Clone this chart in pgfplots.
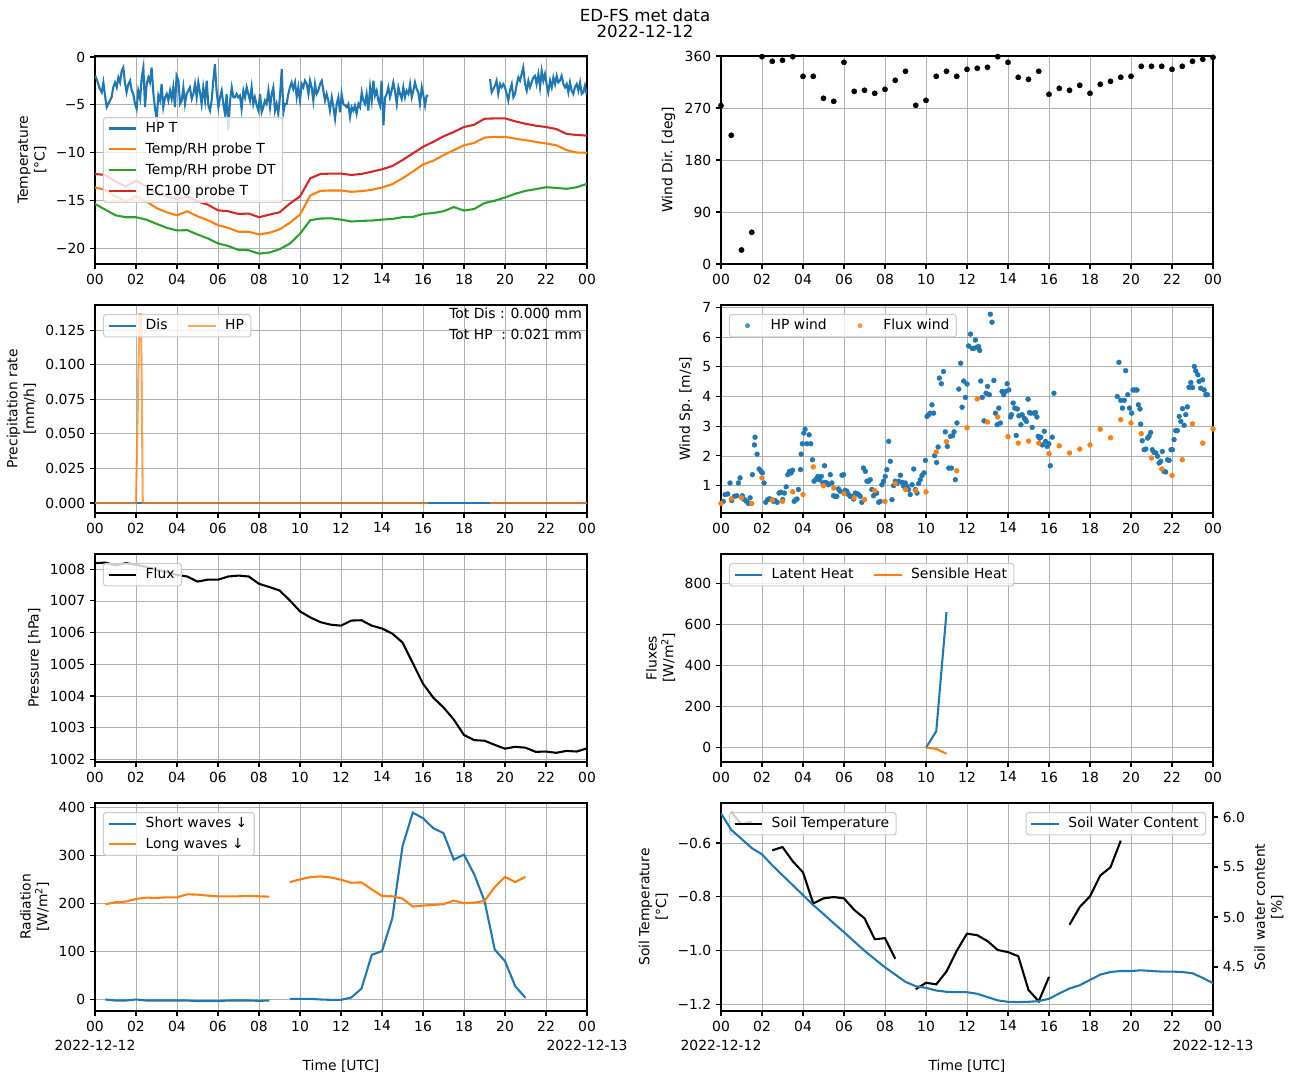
\documentclass[border=0pt]{standalone}
\usepackage{fontspec}
\setmainfont{DejaVu Sans}
\usepackage{pgfplots}
\pgfplotsset{compat=1.18}
\definecolor{tabblue}{HTML}{1F77B4}
\definecolor{taborange}{HTML}{FF7F0E}
\definecolor{tabgreen}{HTML}{2CA02C}
\definecolor{tabred}{HTML}{D62728}
\definecolor{gridgray}{HTML}{B0B0B0}
\definecolor{legframe}{HTML}{CCCCCC}
\pgfplotsset{
  mpllegend/.style={
    legend style={font=\fontsize{10}{12}\selectfont, draw=legframe, line width=0.8pt,
      fill=white, fill opacity=0.8, text opacity=1, draw opacity=1,
      rounded corners=2pt, inner xsep=3pt, inner ysep=1.5pt, row sep=2pt,
      cells={anchor=west}, at={(0.016,0.957)}, anchor=north west,
      /tikz/every even column/.append style={column sep=12pt}},
    legend image code/.code={\draw[##1] (0pt,0pt) -- (20pt,0pt); \path[draw=none,fill=none] (0pt,0pt) -- (24.7pt,0pt);},
  },
  mpl/.style={
    scale only axis, width=354.24pt, height=149.76pt,
    xmin=0, xmax=24, xtick={0,2,...,24},
    xticklabels={00,02,04,06,08,10,12,14,16,18,20,22,00},
    grid=major, major grid style={draw=gridgray, line width=0.6pt},
    axis line style={line width=0.8pt},
    every tick/.style={black, line width=0.8pt},
    tick align=outside, major tick length=3.5pt, tick pos=left,
    tick label style={font=\fontsize{10}{12}\selectfont},
    label style={font=\fontsize{10}{12}\selectfont, align=center},
    /pgf/number format/assume math mode=true,
    mpllegend,
    every axis plot/.append style={line width=1.5pt},
  },
  markleg/.style={legend image code/.code={\fill[#1, draw=none] (10pt,0pt) circle (1.8pt); \path[draw=none,fill=none] (0pt,0pt) -- (24.7pt,0pt);}},
  bottomrow/.style={
    xticklabels={{00\\2022-12-12},02,04,06,08,10,12,14,16,18,20,22,{00\\2022-12-13}},
    xticklabel style={align=center, font=\fontsize{10}{13.7}\selectfont},
    xlabel={Time [UTC]},
  },
}
\begin{document}
\begin{tikzpicture}
\useasboundingbox (0pt,0pt) rectangle (928.8pt,779.04pt);
\node[font=\fontsize{12}{14}\selectfont, anchor=base] at (464.4pt,763.9pt) {ED-FS met data};
\node[font=\fontsize{12}{14}\selectfont, anchor=base] at (464.4pt,751.7pt) {2022-12-12};

% ---------------- Temperature ----------------
\begin{axis}[mpl, at={(68.4pt,738.72pt)}, anchor=north west,
  ymin=-21.6, ymax=0.1, ytick={-20,-15,-10,-5,0}, yticklabels={−20,−15,−10,−5,0},
  ylabel={Temperature\\{}[°C]}, unbounded coords=jump,
  legend style={at={(0.016,0.5)}, anchor=west}]
\addplot[tabblue] table {
x y
0.00 -1.97
0.08 -2.31
0.16 -2.83
0.24 -3.34
0.33 -3.69
0.41 -2.66
0.49 -4.03
0.57 -5.24
0.65 -4.90
0.73 -4.55
0.81 -4.21
0.89 -3.17
0.98 -2.66
1.06 -3.17
1.14 -2.14
1.22 -2.66
1.30 -1.45
1.38 -1.10
1.46 -2.66
1.54 -3.69
1.63 -2.83
1.71 -2.48
1.79 -3.52
1.87 -3.86
1.95 -4.90
2.03 -5.41
2.11 -3.52
2.20 -4.38
2.28 -2.14
2.36 -1.10
2.44 -5.24
2.52 -2.83
2.60 -2.14
2.68 -2.66
2.76 -1.10
2.85 -3.86
2.93 -5.41
3.01 -6.45
3.09 -4.03
3.17 -4.55
3.25 -2.83
3.33 -5.24
3.42 -4.21
3.50 -3.86
3.58 -4.55
3.66 -3.52
3.74 -4.38
3.82 -3.17
3.90 -5.24
3.98 -1.97
4.07 -2.48
4.15 -4.90
4.23 -4.55
4.31 -3.17
4.39 -4.90
4.47 -3.86
4.55 -3.52
4.63 -3.17
4.72 -4.38
4.80 -3.86
4.88 -2.83
4.96 -4.21
5.04 -2.66
5.12 -3.69
5.20 -4.90
5.28 -3.17
5.37 -4.55
5.45 -2.48
5.53 -5.07
5.61 -5.59
5.69 -4.55
5.77 -2.48
5.85 -0.76
5.93 -3.52
6.02 -5.24
6.10 -4.21
6.18 -3.52
6.26 -4.90
6.34 -5.93
6.42 -3.86
6.50 -7.66
6.59 -4.55
6.67 -3.17
6.75 -4.21
6.83 -4.21
6.91 -3.86
6.99 -4.21
7.07 -4.03
7.15 -5.41
7.24 -3.52
7.32 -4.21
7.40 -3.17
7.48 -3.86
7.56 -4.55
7.64 -3.17
7.72 -4.90
7.80 -4.21
7.89 -5.07
7.97 -5.59
8.05 -3.86
8.13 -5.76
8.21 -5.24
8.29 -4.55
8.37 -4.90
8.46 -3.52
8.54 -5.24
8.62 -3.86
8.70 -3.17
8.78 -5.59
8.86 -4.90
8.94 -5.93
9.02 -4.21
9.11 -1.28
9.19 -5.76
9.27 -4.90
9.35 -4.90
9.43 -3.86
9.51 -3.17
9.59 -2.66
9.67 -3.34
9.76 -2.66
9.84 -4.21
9.92 -3.17
10.00 -4.55
10.08 -2.83
10.16 -3.17
10.24 -2.48
10.33 -2.83
10.41 -3.86
10.49 -2.48
10.57 -3.17
10.65 -4.55
10.73 -2.83
10.81 -3.86
10.89 -3.52
10.98 -2.83
11.06 -2.48
11.14 -3.52
11.22 -4.55
11.30 -3.86
11.38 -4.55
11.46 -5.59
11.55 -4.21
11.63 -5.24
11.71 -6.45
11.79 -4.90
11.87 -4.21
11.95 -5.76
12.03 -3.86
12.11 -4.90
12.20 -5.07
12.28 -5.24
12.36 -4.90
12.44 -6.28
12.52 -5.24
12.60 -5.59
12.68 -5.07
12.76 -5.93
12.85 -4.90
12.93 -5.24
13.01 -3.69
13.09 -4.55
13.17 -4.90
13.25 -3.86
13.33 -5.59
13.42 -3.17
13.50 -4.55
13.58 -2.48
13.66 -4.03
13.74 -3.52
13.82 -4.55
13.90 -5.07
13.98 -2.48
14.07 -7.14
14.15 -4.21
14.23 -3.86
14.31 -3.17
14.39 -4.21
14.47 -3.52
14.55 -2.66
14.63 -3.52
14.72 -4.90
14.80 -3.17
14.88 -3.86
14.96 -4.38
15.04 -3.17
15.12 -4.21
15.20 -3.52
15.29 -3.86
15.37 -2.83
15.45 -4.21
15.53 -3.52
15.61 -2.66
15.69 -3.34
15.77 -3.69
15.85 -4.90
15.94 -3.17
16.02 -4.03
16.10 -5.07
16.18 -4.03
16.26 -4.03
nan nan
19.27 -2.31
19.35 -3.69
19.43 -3.34
19.51 -3.00
19.59 -2.48
19.67 -3.86
19.76 -2.83
19.84 -3.17
19.92 -2.83
20.00 -3.17
20.08 -3.86
20.16 -4.55
20.24 -3.52
20.33 -2.83
20.41 -4.21
20.49 -3.86
20.57 -2.83
20.65 -2.14
20.73 -2.48
20.81 -1.79
20.89 -1.10
20.98 -2.83
21.06 -3.52
21.14 -2.48
21.22 -3.17
21.30 -2.66
21.38 -2.14
21.46 -1.97
21.54 -2.83
21.63 -1.79
21.71 -3.17
21.79 -1.45
21.87 -2.48
21.95 -1.79
22.03 -2.83
22.11 -3.69
22.20 -2.48
22.28 -3.17
22.36 -2.14
22.44 -2.83
22.52 -1.97
22.60 -2.66
22.68 -2.48
22.76 -1.97
22.85 -2.83
22.93 -3.17
23.01 -2.83
23.09 -3.69
23.17 -2.66
23.25 -3.52
23.33 -3.86
23.41 -3.17
23.50 -2.83
23.58 -3.52
23.66 -2.66
23.74 -3.86
23.82 -3.69
23.90 -3.00
23.98 -3.86
};
\addlegendentry{HP T}
\addplot[taborange] table {
x y
0.0 -13.62
0.5 -13.86
1.0 -14.55
1.5 -15.07
2.0 -14.55
2.5 -15.07
3.0 -15.76
3.5 -16.21
4.0 -16.52
4.5 -16.10
5.0 -16.62
5.5 -17.03
6.0 -17.55
6.5 -17.83
7.0 -18.24
7.5 -18.24
8.0 -18.52
8.5 -18.34
9.0 -18.00
9.5 -17.31
10.0 -16.45
10.5 -14.45
11.0 -13.97
11.5 -13.93
12.0 -13.93
12.5 -14.07
13.0 -14.00
13.5 -13.86
14.0 -13.62
14.5 -13.28
15.0 -12.66
15.5 -11.97
16.0 -11.21
16.5 -10.83
17.0 -10.24
17.5 -9.72
18.0 -9.21
18.5 -8.97
19.0 -8.41
19.5 -8.34
20.0 -8.34
20.5 -8.52
21.0 -8.69
21.5 -8.86
22.0 -9.03
22.5 -9.21
23.0 -9.72
23.5 -9.97
24.0 -10.00
};
\addlegendentry{Temp/RH probe T}
\addplot[tabgreen] table {
x y
0.0 -15.34
0.5 -15.93
1.0 -16.52
1.5 -16.72
2.0 -16.72
2.5 -16.97
3.0 -17.41
3.5 -17.83
4.0 -18.10
4.5 -18.07
5.0 -18.52
5.5 -18.93
6.0 -19.45
6.5 -19.72
7.0 -20.14
7.5 -20.17
8.0 -20.52
8.5 -20.41
9.0 -20.07
9.5 -19.48
10.0 -18.45
10.5 -17.03
11.0 -16.86
11.5 -16.83
12.0 -16.97
12.5 -17.17
13.0 -17.10
13.5 -17.07
14.0 -16.97
14.5 -16.90
15.0 -16.72
15.5 -16.69
16.0 -16.38
16.5 -16.28
17.0 -16.10
17.5 -15.66
18.0 -16.03
18.5 -15.86
19.0 -15.24
19.5 -15.00
20.0 -14.66
20.5 -14.28
21.0 -13.97
21.5 -13.79
22.0 -13.59
22.5 -13.66
23.0 -13.76
23.5 -13.59
24.0 -13.24
};
\addlegendentry{Temp/RH probe DT}
\addplot[tabred] table {
x y
0.0 -12.21
0.5 -12.31
1.0 -13.00
1.5 -13.52
2.0 -12.90
2.5 -13.52
3.0 -14.21
3.5 -14.55
4.0 -14.83
4.5 -14.55
5.0 -15.07
5.5 -15.41
6.0 -16.00
6.5 -16.10
7.0 -16.38
7.5 -16.34
8.0 -16.72
8.5 -16.45
9.0 -16.21
9.5 -15.31
10.0 -14.55
10.5 -12.66
11.0 -12.21
11.5 -12.17
12.0 -12.17
12.5 -12.31
13.0 -12.21
13.5 -11.97
14.0 -11.72
14.5 -11.38
15.0 -10.76
15.5 -10.07
16.0 -9.38
16.5 -8.86
17.0 -8.28
17.5 -7.83
18.0 -7.31
18.5 -7.07
19.0 -6.45
19.5 -6.41
20.0 -6.41
20.5 -6.72
21.0 -6.97
21.5 -7.17
22.0 -7.31
22.5 -7.52
23.0 -8.03
23.5 -8.14
24.0 -8.21
};
\addlegendentry{EC100 probe T}
\end{axis}

% ---------------- Wind direction ----------------
\begin{axis}[mpl, at={(519.12pt,738.72pt)}, anchor=north west,
  ymin=0, ymax=360, ytick={0,90,180,270,360}, ylabel={Wind Dir. [deg]}, clip=false]
\addplot[only marks, mark=*, mark size=1.9pt, line width=0.3pt, black] table {
x y
0.0 274.0
0.5 222.7
1.0 24.2
1.5 54.8
2.0 358.8
2.5 350.8
3.0 352.5
3.5 358.8
4.0 324.8
4.5 324.8
5.0 286.7
5.5 281.5
6.0 349.0
6.5 298.8
7.0 300.6
7.5 295.4
8.0 302.3
8.5 317.9
9.0 333.5
9.5 274.6
10.0 283.3
10.5 324.8
11.0 333.5
11.5 324.8
12.0 336.9
12.5 338.7
13.0 340.4
13.5 358.8
14.0 349.0
14.5 323.1
15.0 319.6
15.5 333.5
16.0 293.7
16.5 304.0
17.0 300.6
17.5 309.2
18.0 295.4
18.5 311.0
19.0 316.2
19.5 323.1
20.0 324.8
20.5 342.1
21.0 342.1
21.5 342.1
22.0 336.9
22.5 342.1
23.0 350.8
23.5 354.2
24.0 357.7
};
\end{axis}

% ---------------- Precipitation ----------------
\begin{axis}[mpl, at={(68.4pt,559.44pt)}, anchor=north west,
  ymin=-0.0072, ymax=0.1432, ytick={0,0.025,0.05,0.075,0.1,0.125},
  yticklabels={0.000,0.025,0.050,0.075,0.100,0.125},
  ylabel={Precipitation rate\\{}[mm/h]}, unbounded coords=jump, legend columns=2]
\addplot[tabblue] coordinates {(0,0) (24,0)};
\addlegendentry{Dis}
\addplot[taborange, opacity=0.7] table {
x y
0.00 0
2.00 0
2.17 0.1367
2.25 0.1367
2.33 0
16.26 0
nan nan
19.27 0
24.00 0
};
\addlegendentry{HP}
\node[anchor=north east, inner sep=0pt, font=\fontsize{10}{12}\selectfont] at (axis description cs:0.99,0.985) {Tot Dis : 0.000 mm};
\node[anchor=north east, inner sep=0pt, font=\fontsize{10}{12}\selectfont] at (axis description cs:0.99,0.885) {Tot HP\ \ : 0.021 mm};
\end{axis}

% ---------------- Wind speed ----------------
\begin{axis}[mpl, at={(519.12pt,559.44pt)}, anchor=north west,
  ymin=0.08, ymax=7.08, ytick={1,2,3,4,5,6,7}, ylabel={Wind Sp. [m/s]},
  legend columns=2, clip=false]
\addplot[only marks, mark=*, mark size=1.75pt, line width=0.3pt, tabblue, markleg=tabblue] table {
x y
0.11 0.47
0.20 0.70
0.33 0.72
0.44 1.09
0.52 0.50
0.65 0.64
0.77 0.66
0.85 1.09
0.93 1.26
1.04 0.66
1.14 0.53
1.25 0.47
1.34 0.40
1.42 0.59
1.53 1.37
1.63 2.37
1.66 2.63
1.76 2.06
1.86 1.56
1.95 1.48
2.02 1.43
2.10 1.09
2.18 0.44
2.28 0.53
2.36 0.56
2.48 0.53
2.56 0.47
2.64 0.50
2.74 0.44
2.83 0.75
2.92 0.78
3.01 0.53
3.09 0.75
3.18 0.96
3.26 1.37
3.34 1.48
3.42 1.43
3.49 1.52
3.57 0.47
3.65 0.53
3.71 0.55
3.78 0.87
3.88 1.54
3.91 2.06
3.97 2.41
4.04 2.77
4.10 2.90
4.19 2.41
4.30 2.71
4.38 2.41
4.46 1.87
4.54 1.15
4.64 1.22
4.72 1.31
4.80 1.20
4.89 1.31
4.97 1.09
5.05 1.67
5.08 1.11
5.16 1.09
5.24 1.03
5.33 1.37
5.41 1.09
5.49 0.66
5.57 0.64
5.65 0.64
5.73 0.89
5.81 0.81
5.90 1.35
5.98 1.37
6.06 0.84
6.14 0.81
6.22 0.70
6.30 0.64
6.38 0.64
6.47 0.55
6.55 0.75
6.63 0.73
6.71 0.70
6.79 0.64
6.87 0.44
6.95 1.59
7.04 1.48
7.12 1.15
7.20 1.15
7.28 1.20
7.36 0.87
7.44 0.66
7.52 0.73
7.59 0.75
7.69 0.44
7.77 0.47
7.85 1.03
7.93 1.15
8.01 1.31
8.09 1.54
8.18 2.49
8.26 1.82
8.34 0.53
8.42 1.00
8.50 1.15
8.58 1.07
8.66 1.15
8.75 1.35
8.83 1.11
8.91 0.98
8.99 1.09
9.07 0.98
9.15 0.87
9.23 0.70
9.32 1.03
9.40 1.56
9.48 0.87
9.56 0.75
9.64 1.07
9.72 1.20
9.80 1.34
9.90 1.43
9.97 1.85
10.05 3.33
10.13 3.39
10.21 3.44
10.29 3.72
10.37 3.44
10.42 2.01
10.52 1.78
10.59 2.30
10.65 4.62
10.75 4.43
10.85 4.84
10.94 2.81
11.04 2.32
11.11 1.59
11.19 2.66
11.24 1.59
11.30 2.68
11.37 2.81
11.43 1.20
11.51 3.11
11.60 4.25
11.69 5.12
11.76 3.64
11.84 4.52
11.92 3.97
12.00 4.42
12.08 5.70
12.17 6.10
12.25 5.62
12.33 5.62
12.41 5.90
12.48 5.66
12.57 5.68
12.62 5.55
12.67 4.52
12.74 3.97
12.83 3.18
12.93 4.11
13.00 4.34
13.09 4.06
13.14 6.77
13.22 6.50
13.31 4.54
13.39 3.44
13.47 3.05
13.55 3.61
13.63 3.11
13.71 4.17
13.79 4.06
13.88 4.17
13.96 4.43
14.04 4.22
14.12 3.31
14.17 3.39
14.25 3.78
14.33 3.61
14.40 2.69
14.46 3.58
14.53 3.35
14.63 3.05
14.69 3.39
14.79 3.27
14.85 3.22
14.90 3.16
14.98 3.91
15.05 3.46
15.11 3.44
15.18 2.96
15.26 3.44
15.34 3.46
15.41 3.31
15.47 2.66
15.54 2.60
15.60 2.63
15.68 2.37
15.77 2.83
15.83 2.49
15.91 2.32
15.99 2.41
16.06 1.67
16.16 2.63
16.24 4.11
19.33 4.00
19.41 5.15
19.50 3.87
19.58 3.61
19.67 3.87
19.74 4.87
19.84 4.06
19.93 3.61
20.03 3.44
20.10 4.22
20.20 4.22
20.29 4.22
20.36 3.72
20.44 3.58
20.47 3.07
20.55 2.51
20.64 2.21
20.72 2.23
20.81 2.60
20.88 2.66
20.96 2.79
21.04 2.21
21.12 2.12
21.21 2.10
21.29 1.99
21.37 1.76
21.45 1.82
21.53 2.15
21.61 1.48
21.69 1.46
21.78 1.87
21.86 1.85
21.95 2.21
22.02 2.21
22.10 2.55
22.18 2.85
22.26 2.85
22.35 3.33
22.43 3.16
22.51 3.59
22.59 3.03
22.67 3.39
22.75 3.65
22.83 4.31
22.92 4.47
23.00 4.30
23.09 5.01
23.16 4.86
23.26 4.73
23.32 4.51
23.40 4.28
23.49 4.56
23.57 4.22
23.65 4.06
23.73 4.06
};
\addlegendentry{HP wind}
\addplot[only marks, mark=*, mark size=1.75pt, line width=0.3pt, taborange, markleg=taborange] table {
x y
0.0 0.40
0.5 0.56
1.0 0.59
1.5 0.40
2.0 1.26
2.5 0.51
3.0 0.47
3.5 0.79
4.0 0.70
4.5 1.63
5.0 1.00
5.5 0.92
6.0 0.73
6.5 0.59
7.0 0.53
7.5 0.83
8.0 0.47
8.5 1.07
9.0 0.87
9.5 0.83
10.0 0.79
10.5 2.13
11.0 2.48
11.5 1.50
12.0 2.95
12.5 3.92
13.0 3.14
13.5 3.31
14.0 2.65
14.5 2.43
15.0 2.50
15.5 2.43
16.0 2.08
16.5 2.34
17.0 2.10
17.5 2.23
18.0 2.37
18.5 2.90
19.0 2.61
19.5 3.22
20.0 3.11
20.5 2.75
21.0 1.93
21.5 1.56
22.0 1.34
22.5 1.87
23.0 3.08
23.5 2.43
24.0 2.91
};
\addlegendentry{Flux wind}
\end{axis}

% ---------------- Pressure ----------------
\begin{axis}[mpl, at={(68.4pt,380.16pt)}, anchor=north west,
  ymin=1001.92, ymax=1008.48, ytick={1002,1003,1004,1005,1006,1007,1008},
  /pgf/number format/1000 sep={}, ylabel={Pressure [hPa]}]
\addplot[black] table {
x y
0.0 1008.19
0.5 1008.21
1.0 1008.12
1.5 1008.19
2.0 1008.14
2.5 1008.07
3.0 1007.98
3.5 1007.90
4.0 1007.82
4.5 1007.77
5.0 1007.61
5.5 1007.67
6.0 1007.67
6.5 1007.77
7.0 1007.80
7.5 1007.77
8.0 1007.54
8.5 1007.44
9.0 1007.33
9.5 1007.02
10.0 1006.67
10.5 1006.48
11.0 1006.33
11.5 1006.25
12.0 1006.22
12.5 1006.38
13.0 1006.39
13.5 1006.22
14.0 1006.13
14.5 1005.97
15.0 1005.69
15.5 1005.04
16.0 1004.39
16.5 1003.95
17.0 1003.64
17.5 1003.26
18.0 1002.77
18.5 1002.61
19.0 1002.59
19.5 1002.46
20.0 1002.34
20.5 1002.40
21.0 1002.37
21.5 1002.24
22.0 1002.25
22.5 1002.21
23.0 1002.27
23.5 1002.25
24.0 1002.35
};
\addlegendentry{Flux}
\end{axis}

% ---------------- Fluxes ----------------
\begin{axis}[mpl, at={(519.12pt,380.16pt)}, anchor=north west,
  ymin=-70, ymax=943, ytick={0,200,400,600,800},
  ylabel={Fluxes\\{}[W/m\textsuperscript{2}]}, legend columns=2]
\addplot[tabblue] coordinates {(10.0,0) (10.5,80) (11.0,660)};
\addlegendentry{Latent Heat}
\addplot[taborange] coordinates {(10.0,0) (10.5,-6) (11.0,-30)};
\addlegendentry{Sensible Heat}
\end{axis}

% ---------------- Radiation ----------------
\begin{axis}[mpl, bottomrow, at={(68.4pt,200.88pt)}, anchor=north west,
  ymin=-24, ymax=410, ytick={0,100,200,300,400},
  ylabel={Radiation\\{}[W/m\textsuperscript{2}]}, unbounded coords=jump]
\addplot[tabblue] table {
x y
0.5 0.0
1.0 -2.1
1.5 -2.1
2.0 0.0
2.5 -2.1
3.0 -2.1
3.5 -2.1
4.0 -2.1
4.5 -2.1
5.0 -3.5
5.5 -3.5
6.0 -3.5
6.5 -2.1
7.0 -2.1
7.5 -2.1
8.0 -2.8
8.5 -2.1
nan nan
9.5 1.4
10.0 1.4
10.5 1.4
11.0 0.0
11.5 -0.7
12.0 -0.7
12.5 4.1
13.0 22.8
13.5 93.2
14.0 100.8
14.5 169.1
15.0 319.5
15.5 389.9
16.0 378.2
16.5 357.5
17.0 347.1
17.5 291.9
18.0 302.3
18.5 260.9
19.0 205.7
19.5 104.2
20.0 80.0
20.5 27.6
21.0 3.5
};
\addlegendentry{Short waves ↓}
\addplot[taborange] table {
x y
0.5 198.8
1.0 202.9
1.5 204.3
2.0 209.8
2.5 212.6
3.0 211.9
3.5 213.2
4.0 213.2
4.5 219.5
5.0 218.8
5.5 216.7
6.0 215.3
6.5 215.3
7.0 215.3
7.5 216.0
8.0 215.3
8.5 214.6
nan nan
9.5 245.0
10.0 250.5
10.5 255.3
11.0 256.7
11.5 254.7
12.0 249.8
12.5 243.6
13.0 244.3
13.5 229.8
14.0 216.0
14.5 215.3
15.0 210.5
15.5 193.9
16.0 196.0
16.5 197.4
17.0 198.8
17.5 206.4
18.0 200.8
18.5 202.2
19.0 205.7
19.5 234.6
20.0 256.0
20.5 245.0
21.0 256.0
};
\addlegendentry{Long waves ↓}
\end{axis}

% ---------------- Soil ----------------
\begin{axis}[mpl, bottomrow, at={(519.12pt,200.88pt)}, anchor=north west,
  ymin=-1.225, ymax=-0.451, ytick={-1.2,-1.0,-0.8,-0.6},
  yticklabels={−1.2,−1.0,−0.8,−0.6},
  ylabel={Soil Temperature\\{}[°C]}, unbounded coords=jump]
\addplot[black] table {
x y
0.5 -0.485
1.0 -0.530
1.5 -0.520
nan nan
2.5 -0.627
3.0 -0.615
3.5 -0.668
4.0 -0.709
4.5 -0.825
5.0 -0.806
5.5 -0.801
6.0 -0.806
6.5 -0.849
7.0 -0.880
7.5 -0.958
8.0 -0.954
8.5 -1.031
nan nan
9.5 -1.144
10.0 -1.120
10.5 -1.126
11.0 -1.078
11.5 -1.001
12.0 -0.937
12.5 -0.943
13.0 -0.965
13.5 -0.998
14.0 -1.006
14.5 -1.021
15.0 -1.147
15.5 -1.189
16.0 -1.098
nan nan
17.0 -0.904
17.5 -0.838
18.0 -0.798
18.5 -0.721
19.0 -0.690
19.5 -0.591
};
\addlegendentry{Soil Temperature}
\end{axis}
\begin{axis}[scale only axis, width=354.24pt, height=149.76pt,
  at={(519.12pt,200.88pt)}, anchor=north west,
  xmin=0, xmax=24, axis x line=none, axis y line*=right,
  ymin=4.06, ymax=6.14, ytick={4.5,5.0,5.5,6.0},
  yticklabel style={/pgf/number format/.cd, fixed, fixed zerofill, precision=1},
  /pgf/number format/assume math mode=true,
  axis line style={line width=0.8pt},
  every tick/.style={black, line width=0.8pt},
  tick align=outside, major tick length=3.5pt,
  tick label style={font=\fontsize{10}{12}\selectfont},
  ylabel near ticks, yticklabel pos=right,
  ylabel={Soil water content\\{}[\%]},
  ylabel style={font=\fontsize{10}{12}\selectfont, align=center},
  mpllegend,
  legend style={at={(0.986,0.957)}, anchor=north east}]
\addplot[tabblue, line width=1.5pt] table {
x y
0.0 6.036
0.5 5.871
1.0 5.781
1.5 5.689
2.0 5.626
2.5 5.517
3.0 5.417
3.5 5.318
4.0 5.219
4.5 5.119
5.0 5.030
5.5 4.937
6.0 4.848
6.5 4.755
7.0 4.662
7.5 4.579
8.0 4.497
8.5 4.424
9.0 4.351
9.5 4.308
10.0 4.291
10.5 4.265
11.0 4.252
11.5 4.248
12.0 4.248
12.5 4.232
13.0 4.199
13.5 4.166
14.0 4.152
14.5 4.149
15.0 4.152
15.5 4.159
16.0 4.182
16.5 4.235
17.0 4.285
17.5 4.318
18.0 4.371
18.5 4.424
19.0 4.450
19.5 4.460
20.0 4.460
20.5 4.467
21.0 4.460
21.5 4.454
22.0 4.454
22.5 4.450
23.0 4.437
23.5 4.391
24.0 4.338
};
\addlegendentry{Soil Water Content}
\end{axis}
\end{tikzpicture}
\end{document}
